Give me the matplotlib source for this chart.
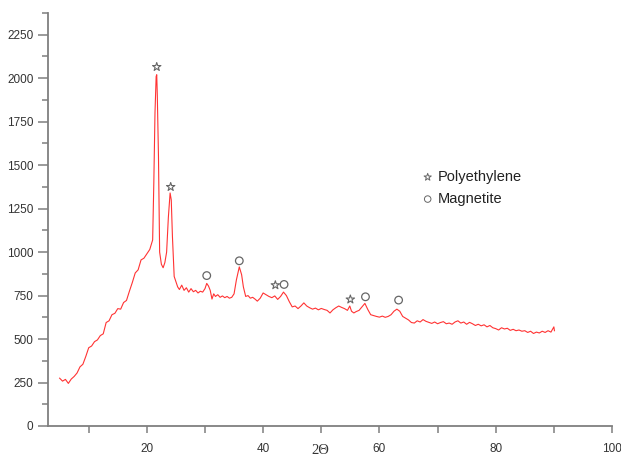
import matplotlib
matplotlib.use("Agg")
import matplotlib.pyplot as plt
from matplotlib.ticker import MultipleLocator

# XRD pattern
two_theta = [
    5.0, 5.5, 6.0, 6.5, 7.0, 7.5, 8.0, 8.5, 9.0, 9.5, 10.0, 10.5, 11.0, 11.5,
    12.0, 12.5, 13.0, 13.5, 14.0, 14.5, 15.0, 15.5, 16.0, 16.5, 17.0, 17.5,
    18.0, 18.5, 19.0, 19.5, 20.0, 20.5, 21.0,
    21.2, 21.4, 21.6, 21.7, 21.8, 22.0, 22.2, 22.5, 22.8, 23.1, 23.4, 23.7,
    24.0, 24.2, 24.4, 24.7, 25.0, 25.3,
    25.6, 26.0, 26.4, 26.8, 27.2, 27.6, 28.0, 28.4, 28.8, 29.2, 29.6, 30.0,
    30.3, 30.6, 30.9, 31.2, 31.5, 31.8, 32.2, 32.6, 33.0, 33.4, 33.8, 34.2,
    34.6, 35.0, 35.4, 35.9, 36.3, 36.6, 37.0, 37.4, 37.8, 38.2, 38.6, 39.0,
    39.5, 40.0, 40.5, 41.0, 41.5, 42.0, 42.5, 43.0, 43.5, 44.0, 44.5, 45.0,
    45.5, 46.0, 46.5, 47.0, 47.5, 48.0, 48.5, 49.0, 49.5, 50.0, 50.5, 51.0,
    51.5, 52.0, 52.5, 53.0, 53.5, 54.0, 54.5, 54.9, 55.2, 55.6, 56.0, 56.5,
    57.0, 57.5, 58.0, 58.5, 59.0, 59.5, 60.0, 60.5, 61.0, 61.5, 62.0, 62.5,
    63.0, 63.5, 64.0, 64.5, 65.0, 65.5, 66.0, 66.5, 67.0, 67.5, 68.0, 68.5,
    69.0, 69.5, 70.0, 70.5, 71.0, 71.5, 72.0, 72.5, 73.0, 73.5, 74.0, 74.5,
    75.0, 75.5, 76.0, 76.5, 77.0, 77.5, 78.0, 78.5, 79.0, 79.5, 80.0, 80.5,
    81.0, 81.5, 82.0, 82.5, 83.0, 83.5, 84.0, 84.5, 85.0, 85.5, 86.0, 86.5,
    87.0, 87.5, 88.0, 88.5, 89.0, 89.5, 90.0, 90.1,
]
intensity = [
    275, 258, 268, 245, 270, 285, 305, 340, 355, 400, 450, 460, 485, 495,
    520, 530, 595, 605, 640, 648, 675, 672, 710, 722, 775, 825,
    880, 898, 955, 965, 990, 1015, 1070,
    1400, 1800, 2010, 2020, 1900, 1550, 1000, 930, 910, 940, 1000, 1200,
    1340, 1300, 1090, 860, 830, 800,
    785, 810, 780, 795, 770, 790, 772, 780, 765, 775, 770, 790,
    820, 805, 780, 730, 760, 745, 755, 740, 748, 738, 745, 735,
    740, 760, 840, 915, 870, 800, 745, 750, 735, 740, 730, 718,
    735, 765, 755, 745, 738, 748, 728, 745, 770, 750, 715, 685,
    690, 675, 690, 708, 690, 680, 672, 678, 668, 676, 670, 665,
    650, 668, 680, 690, 682, 675, 665, 690, 660, 650, 658, 665,
    685, 705, 670, 640, 635, 630, 626, 632, 625, 630, 640, 660,
    672, 660, 630, 620, 610, 595, 592, 605, 598, 612, 602, 596,
    590, 598, 588, 595, 600, 588, 592, 585, 598, 605, 592, 598,
    585, 596, 588, 578, 585, 576, 582, 570, 578, 565, 560, 552,
    565, 558, 562, 550, 556, 548, 552, 545, 548, 538, 545, 532,
    540, 535, 545, 538, 548, 540, 570, 548,
]

# peak assignments
pe_x = [21.7, 24.1, 42.1, 55.0]
pe_y = [2065, 1375, 810, 728]
mag_x = [30.3, 35.9, 43.6, 57.6, 63.3]
mag_y = [865, 950, 814, 743, 724]

LINE_COLOR = "#ff3333"
MARK_COLOR = "#666666"
AXIS_COLOR = "#7f7f7f"
TEXT_COLOR = "#333333"

plt.rcParams["font.family"] = ["Liberation Sans", "DejaVu Sans"]

fig = plt.figure(figsize=(6.21, 4.58), dpi=100)
ax = fig.add_axes([48 / 621, 32 / 458, 564 / 621, 413 / 458])

ax.plot(two_theta, intensity, color=LINE_COLOR, linewidth=0.8)
ax.scatter(pe_x, pe_y, marker="*", s=40, facecolors="none",
           edgecolors=MARK_COLOR, linewidths=0.8, zorder=3)
ax.scatter(mag_x, mag_y, marker="o", s=30, facecolors="none",
           edgecolors=MARK_COLOR, linewidths=0.9, zorder=3)

# legend drawn as text in data space, like the original
ax.scatter([68.3], [1431], marker="*", s=30, facecolors="none",
           edgecolors=MARK_COLOR, linewidths=0.7)
ax.scatter([68.3], [1305], marker="o", s=22, facecolors="none",
           edgecolors=MARK_COLOR, linewidths=0.7)
ax.text(70.0, 1431, "Polyethylene", fontsize=10.5, color="#222222", va="center")
ax.text(70.0, 1305, "Magnetite", fontsize=10.5, color="#222222", va="center")

ax.set_xlim(3, 100)
ax.set_ylim(0, 2375)
ax.xaxis.set_major_locator(MultipleLocator(20))
ax.xaxis.set_minor_locator(MultipleLocator(10))
ax.yaxis.set_major_locator(MultipleLocator(250))
ax.yaxis.set_minor_locator(MultipleLocator(125))

for side in ("top", "right"):
    ax.spines[side].set_visible(False)
for side in ("left", "bottom"):
    ax.spines[side].set_color(AXIS_COLOR)
    ax.spines[side].set_linewidth(1.3)

ax.tick_params(which="both", colors=AXIS_COLOR, labelcolor=TEXT_COLOR,
               labelsize=8.5, width=1.1)
ax.tick_params(axis="y", which="major", length=7)
ax.tick_params(axis="y", which="minor", length=4)
ax.tick_params(axis="x", which="major", length=5, pad=7)
ax.tick_params(axis="x", which="minor", length=5)

fig.text(320 / 621, 0.5 / 458, "2\u0398", family=["Liberation Serif", "DejaVu Serif"],
         fontsize=10.5, color="#333333", ha="center", va="bottom")

fig.savefig("out.png", dpi=100)
